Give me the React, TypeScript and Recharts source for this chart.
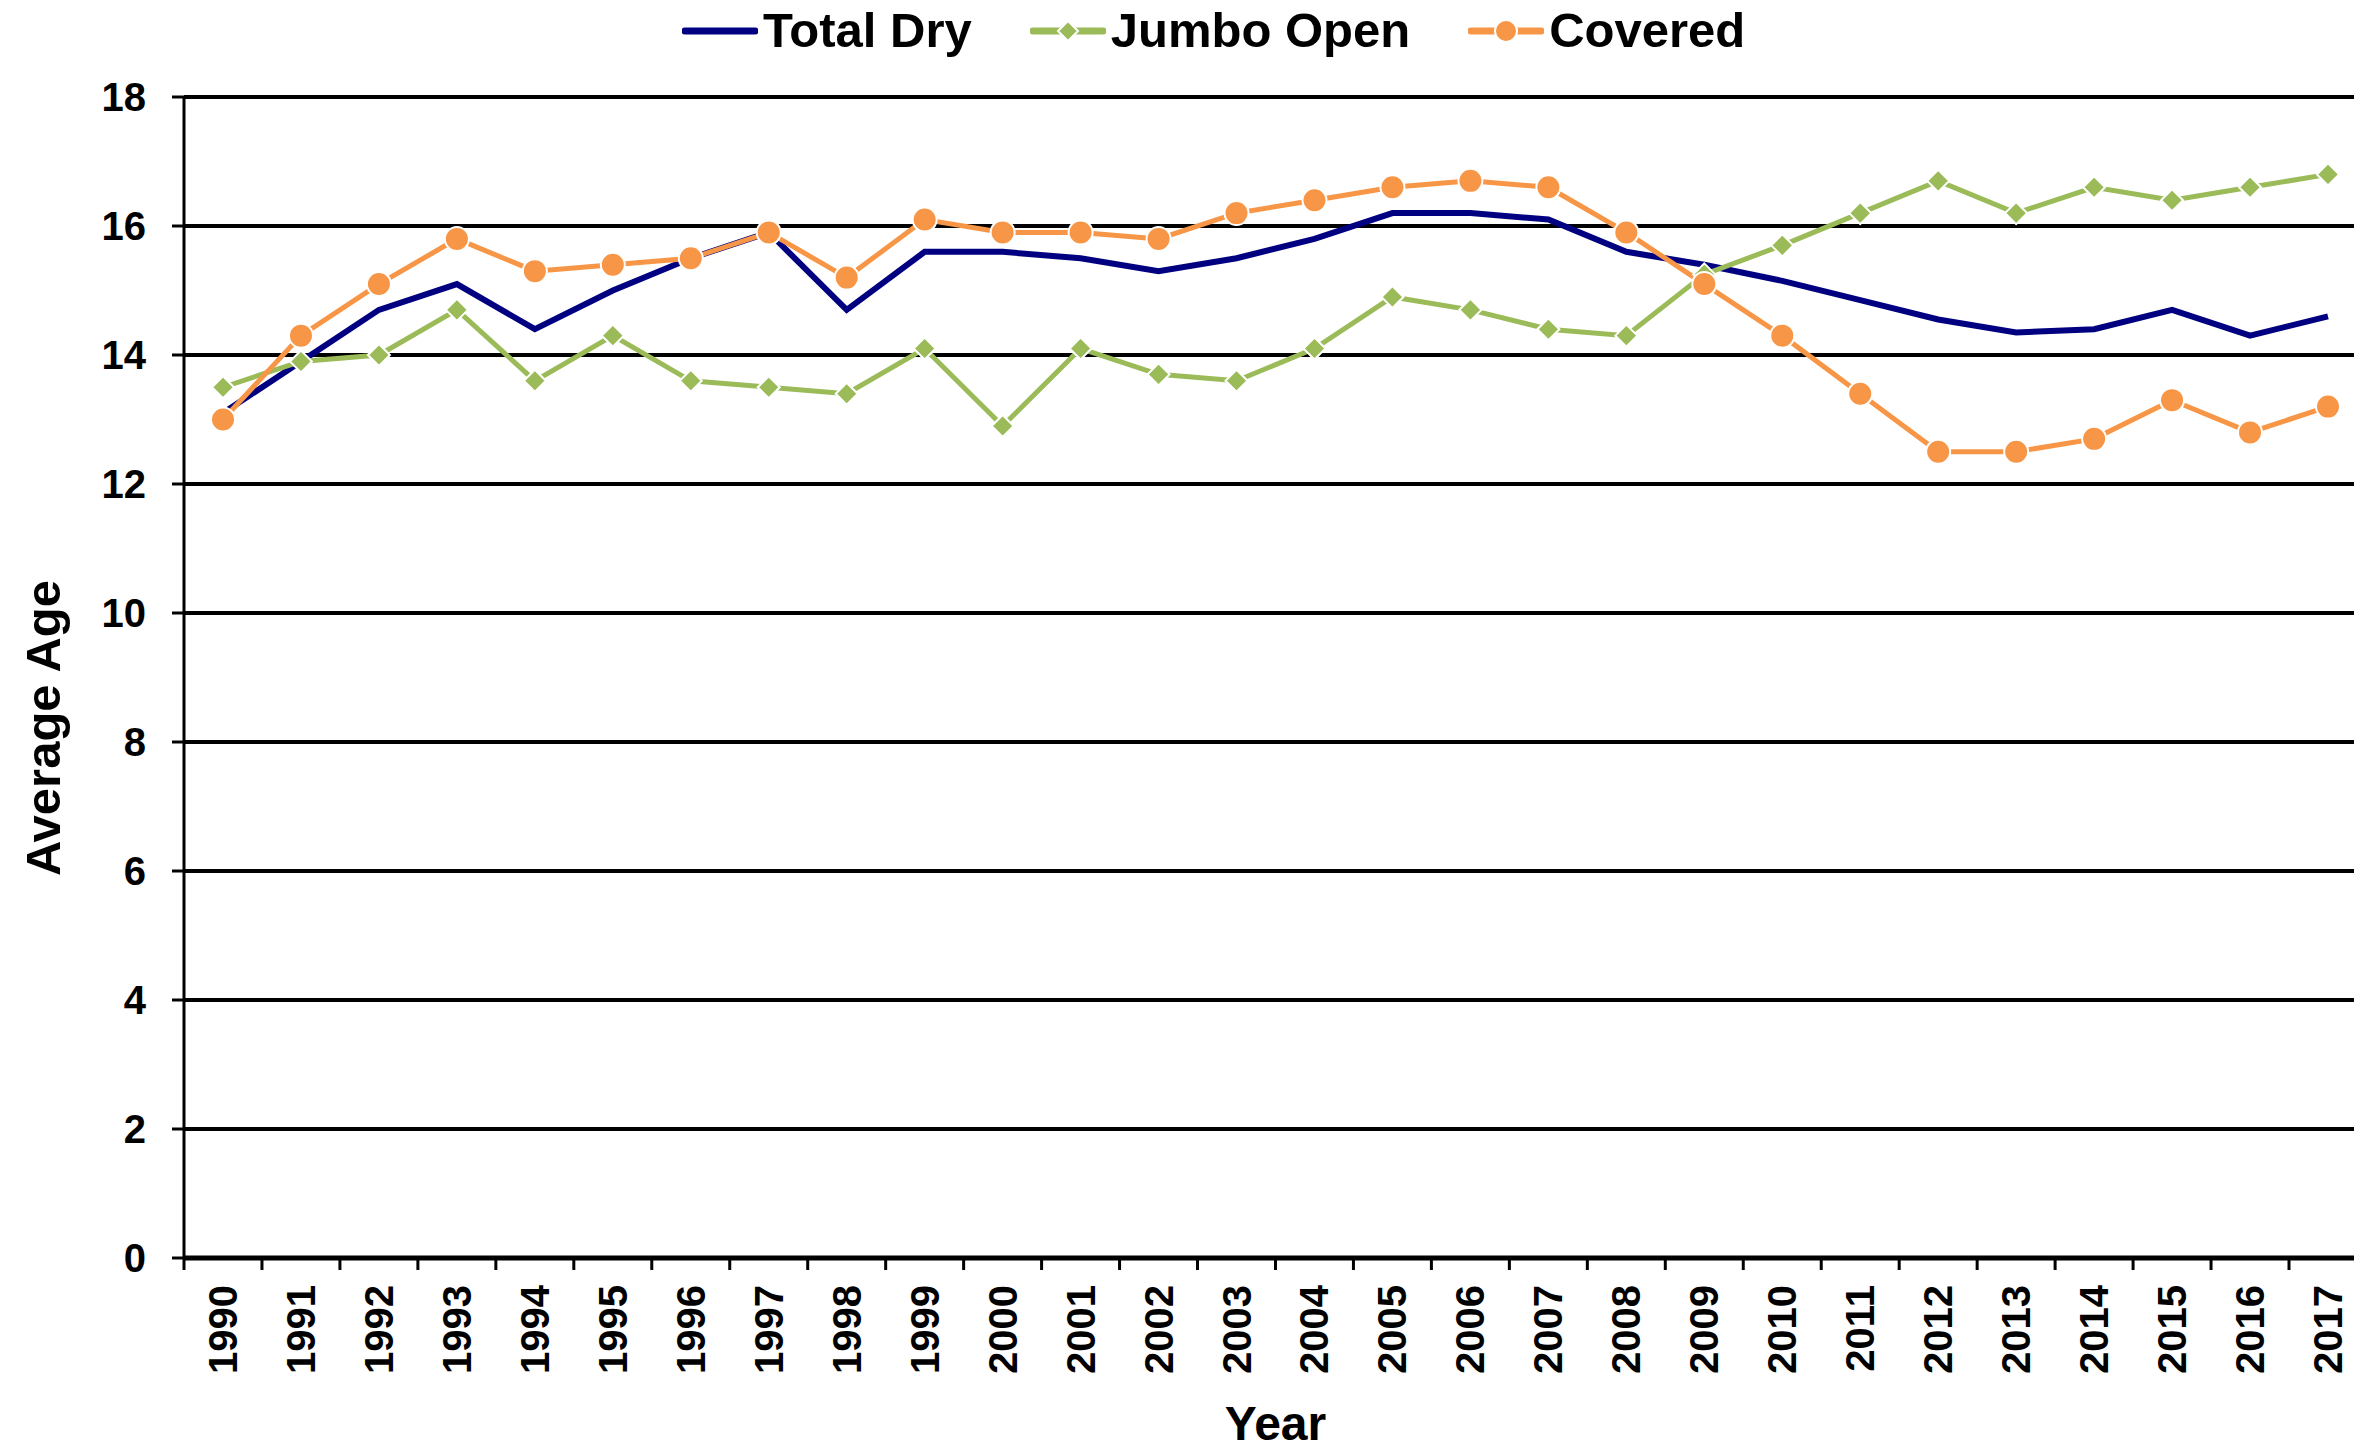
import React from 'react'
import {
  LineChart, Line, XAxis, YAxis, CartesianGrid, Legend, Label,
} from 'recharts'

const years = [
  '1990', '1991', '1992', '1993', '1994', '1995', '1996', '1997', '1998', '1999',
  '2000', '2001', '2002', '2003', '2004', '2005', '2006', '2007', '2008', '2009',
  '2010', '2011', '2012', '2013', '2014', '2015', '2016', '2017',
]

const totalDry = [
  13.1, 13.9, 14.7, 15.1, 14.4, 15.0, 15.5, 15.9, 14.7, 15.6,
  15.6, 15.5, 15.3, 15.5, 15.8, 16.2, 16.2, 16.1, 15.6, 15.4,
  15.15, 14.85, 14.55, 14.35, 14.4, 14.7, 14.3, 14.6,
]

const jumboOpen = [
  13.5, 13.9, 14.0, 14.7, 13.6, 14.3, 13.6, 13.5, 13.4, 14.1,
  12.9, 14.1, 13.7, 13.6, 14.1, 14.9, 14.7, 14.4, 14.3, 15.25,
  15.7, 16.2, 16.7, 16.2, 16.6, 16.4, 16.6, 16.8,
]

const covered = [
  13.0, 14.3, 15.1, 15.8, 15.3, 15.4, 15.5, 15.9, 15.2, 16.1,
  15.9, 15.9, 15.8, 16.2, 16.4, 16.6, 16.7, 16.6, 15.9, 15.1,
  14.3, 13.4, 12.5, 12.5, 12.7, 13.3, 12.8, 13.2,
]

const yTicks = [0, 2, 4, 6, 8, 10, 12, 14, 16, 18]

const NAVY = '#000080'
const GREEN = '#9BBB59'
const ORANGE = '#F79646'
const FONT = '"Liberation Sans", Arial, sans-serif'

const data = years.map((y, i) => ({
  year: y,
  totalDry: totalDry[i],
  jumboOpen: jumboOpen[i],
  covered: covered[i],
}))

const HALF_BAND = 39

function diamondDot(p: any) {
  const { cx, cy, index } = p
  if (cx == null || cy == null) return <g key={`jd-${index}`} />
  const r = 11
  return (
    <polygon
      key={`jd-${index}`}
      points={`${cx},${cy - r} ${cx + r},${cy} ${cx},${cy + r} ${cx - r},${cy}`}
      fill={GREEN}
      stroke="#fff"
      strokeWidth={2}
    />
  )
}

function circleDot(p: any) {
  const { cx, cy, index } = p
  if (cx == null || cy == null) return <g key={`cd-${index}`} />
  return <circle key={`cd-${index}`} cx={cx} cy={cy} r={12} fill={ORANGE} stroke="#fff" strokeWidth={2} />
}

// year labels rotated, plus tick marks at the band edges
function YearTick(props: any) {
  const { x, y, payload, index } = props
  const axisY = y - 27
  return (
    <g>
      <line x1={x - HALF_BAND} x2={x - HALF_BAND} y1={axisY} y2={axisY + 12} stroke="#000" strokeWidth={3} />
      {index === years.length - 1 && (
        <line x1={x + HALF_BAND} x2={x + HALF_BAND} y1={axisY} y2={axisY + 12} stroke="#000" strokeWidth={3} />
      )}
      <text
        x={x + 14}
        y={y}
        transform={`rotate(-90, ${x + 14}, ${y})`}
        textAnchor="end"
        fontSize={40}
        fontWeight="bold"
        fontFamily={FONT}
        fill="#000"
      >
        {payload.value}
      </text>
    </g>
  )
}

function LegendIcon({ color, shape }: { color: string; shape: string }) {
  return (
    <svg width={76} height={26} style={{ display: 'block' }}>
      <line x1={3} x2={73} y1={13} y2={13} stroke={color} strokeWidth={7} strokeLinecap="round" />
      {shape === 'diamond' && (
        <polygon points="38,3 48,13 38,23 28,13" fill={color} stroke="#fff" strokeWidth={2} />
      )}
      {shape === 'circle' && <circle cx={38} cy={13} r={11} fill={color} stroke="#fff" strokeWidth={2} />}
    </svg>
  )
}

const legendItems = [
  { name: 'Total Dry', color: NAVY, shape: 'none' },
  { name: 'Jumbo Open', color: GREEN, shape: 'diamond' },
  { name: 'Covered', color: ORANGE, shape: 'circle' },
]

function renderLegend() {
  return (
    <div style={{ display: 'flex', alignItems: 'center', gap: 58, height: 49 }}>
      {legendItems.map(it => (
        <div key={it.name} style={{ display: 'flex', alignItems: 'center' }}>
          <LegendIcon color={it.color} shape={it.shape} />
          <span
            style={{
              marginLeft: 5, fontSize: 49, lineHeight: '49px', fontWeight: 'bold',
              fontFamily: FONT, color: '#000', whiteSpace: 'nowrap',
            }}
          >
            {it.name}
          </span>
        </div>
      ))}
    </div>
  )
}

export default function App() {
  return (
    <div style={{ position: 'absolute', left: 0, top: 0, width: 2354, height: 1450, overflow: 'hidden', background: '#fff' }}>
      <LineChart
        width={2367}
        height={1450}
        data={data}
        margin={{ top: 97, right: 0, bottom: 0, left: 0 }}
        style={{ fontFamily: FONT }}
      >
        <CartesianGrid vertical={false} stroke="#000" strokeWidth={4} />
        <XAxis
          dataKey="year"
          height={192}
          padding={{ left: HALF_BAND, right: HALF_BAND }}
          interval={0}
          tickLine={false}
          tickSize={12}
          tickMargin={15}
          axisLine={{ stroke: '#000', strokeWidth: 5 }}
          tick={<YearTick />}
        >
          <Label
            content={(p: any) => {
              const vb = p.viewBox || {}
              return (
                <text
                  x={vb.x + vb.width / 2}
                  y={1440}
                  textAnchor="middle"
                  fontSize={48}
                  fontWeight="bold"
                  fontFamily={FONT}
                  fill="#000"
                >
                  Year
                </text>
              )
            }}
          />
        </XAxis>
        <YAxis
          width={184}
          domain={[0, 18]}
          ticks={yTicks}
          interval={0}
          tickSize={12}
          tickMargin={26}
          tickLine={{ stroke: '#000', strokeWidth: 3 }}
          axisLine={{ stroke: '#000', strokeWidth: 3 }}
          tick={{ fill: '#000', fontSize: 40, fontWeight: 'bold', fontFamily: FONT }}
        >
          <Label
            content={() => (
              <text
                x={60}
                y={728}
                transform="rotate(-90, 60, 728)"
                textAnchor="middle"
                fontSize={49}
                fontWeight="bold"
                fontFamily={FONT}
                fill="#000"
              >
                Average Age
              </text>
            )}
          />
        </YAxis>
        <Legend
          layout="horizontal"
          verticalAlign="middle"
          align="center"
          wrapperStyle={{ top: 6, left: 682, width: 1300, height: 49 }}
          content={renderLegend}
        />
        <Line
          type="linear"
          dataKey="totalDry"
          name="Total Dry"
          stroke={NAVY}
          strokeWidth={6}
          dot={false}
          activeDot={false}
          isAnimationActive={false}
        />
        <Line
          type="linear"
          dataKey="jumboOpen"
          name="Jumbo Open"
          stroke={GREEN}
          strokeWidth={5}
          dot={diamondDot}
          activeDot={false}
          isAnimationActive={false}
        />
        <Line
          type="linear"
          dataKey="covered"
          name="Covered"
          stroke={ORANGE}
          strokeWidth={5}
          dot={circleDot}
          activeDot={false}
          isAnimationActive={false}
        />
      </LineChart>
    </div>
  )
}
